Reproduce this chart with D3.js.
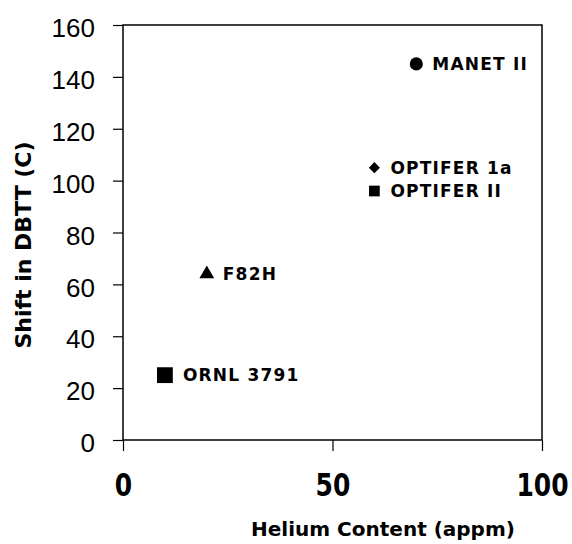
<!DOCTYPE html>
<html>
<head>
<meta charset="utf-8">
<script src="https://cdn.jsdelivr.net/npm/d3@7"></script>
<style>
  body { margin: 0; background: #fff; }
  .tick-y { font-family: "Liberation Sans", Arial, sans-serif; font-size: 26px; }
  .tick-x { font-family: "DejaVu Sans", Verdana, sans-serif; font-weight: bold; font-size: 25px; }
  .axis-title { font-family: "DejaVu Sans", Verdana, sans-serif; font-weight: bold; }
  .point-label { font-family: "DejaVu Sans", Verdana, sans-serif; font-weight: bold; font-size: 17px; letter-spacing: 1.2px; }
</style>
</head>
<body>
<svg id="chart" width="572" height="544"></svg>
<script>
// ----------

const MATERIALS = ["ORNL 3791", "F82H", "OPTIFER II", "OPTIFER 1a", "MANET II"];
const HELIUM_APPM = [10, 20, 60, 60, 70];
const DBTT_SHIFT = [25, 64, 96, 105, 145];

const X_TICKS = [0, 50, 100];
const Y_TICKS = [0, 20, 40, 60, 80, 100, 120, 140, 160];

// marker per material: [d3 symbol, area, rotation]
const MARKERS = {
  "ORNL 3791": [d3.symbolSquare, 250, 0],
  "F82H": [d3.symbolTriangle, 95, 0],
  "OPTIFER II": [d3.symbolSquare, 115, 0],
  "OPTIFER 1a": [d3.symbolSquare, 62, 45],
  "MANET II": [d3.symbolCircle, 135, 0]
};

const X_LABEL_STRETCH = 1.25; // tick digits in the reference are drawn tall

// ----------

function drawChart() {
  let svg = d3.select("#chart"),
    left = 123,
    right = 542,
    top = 25,
    bottom = 440;

  let x = d3.scaleLinear().domain([0, 100]).range([left, right]);
  let y = d3.scaleLinear().domain([0, 160]).range([bottom, top]);

  let points = MATERIALS.map(function (name, i) {
    return { name: name, he: HELIUM_APPM[i], shift: DBTT_SHIFT[i] };
  });

  // frame
  svg.append("rect")
    .attr("x", left)
    .attr("y", top)
    .attr("width", right - left)
    .attr("height", bottom - top)
    .attr("fill", "none")
    .attr("stroke", "#000")
    .attr("stroke-width", 1.5);

  // y axis
  let yAxis = svg.append("g")
    .attr("transform", "translate(" + left + ",0)")
    .call(d3.axisLeft(y).tickValues(Y_TICKS).tickSize(10).tickPadding(18));
  yAxis.select(".domain").remove();
  yAxis.selectAll("line").attr("stroke", "#000").attr("stroke-width", 1.2);
  yAxis.selectAll("text")
    .attr("class", "tick-y")
    .attr("fill", "#000")
    .attr("dy", "0.45em");
  yAxis.attr("font-size", null).attr("font-family", null);

  // x axis
  let xAxis = svg.append("g")
    .attr("transform", "translate(0," + bottom + ")")
    .call(d3.axisBottom(x).tickValues(X_TICKS).tickSize(11).tickPadding(0));
  xAxis.select(".domain").remove();
  xAxis.selectAll("line").attr("stroke", "#000").attr("stroke-width", 1.2);
  xAxis.selectAll("text")
    .attr("class", "tick-x")
    .attr("fill", "#000")
    .attr("dy", null)
    .attr("y", 56 / X_LABEL_STRETCH)
    .attr("transform", "scale(1," + X_LABEL_STRETCH + ")");
  xAxis.attr("font-size", null).attr("font-family", null);

  // axis titles
  svg.append("text")
    .attr("class", "axis-title")
    .attr("x", 383)
    .attr("y", 536)
    .attr("text-anchor", "middle")
    .attr("font-size", 20)
    .text("Helium Content (appm)");

  svg.append("text")
    .attr("class", "axis-title")
    .attr("transform", "translate(31,245) rotate(-90)")
    .attr("text-anchor", "middle")
    .attr("font-size", 22)
    .text("Shift in DBTT (C)");

  // markers
  svg.selectAll("path.marker")
    .data(points)
    .enter()
    .append("path")
    .attr("class", "marker")
    .attr("d", function (d) {
      let m = MARKERS[d.name];
      return d3.symbol().type(m[0]).size(m[1])();
    })
    .attr("transform", function (d) {
      return "translate(" + x(d.he) + "," + y(d.shift) + ") rotate(" + MARKERS[d.name][2] + ")";
    })
    .attr("fill", "#000");

  // labels
  svg.selectAll("text.point-label")
    .data(points)
    .enter()
    .append("text")
    .attr("class", "point-label")
    .attr("x", function (d) {
      return x(d.he) + (d.name === "ORNL 3791" ? 18 : 16);
    })
    .attr("y", function (d) {
      return y(d.shift) + 6;
    })
    .text(function (d) {
      return d.name;
    });
}

drawChart();
</script>
</body>
</html>
